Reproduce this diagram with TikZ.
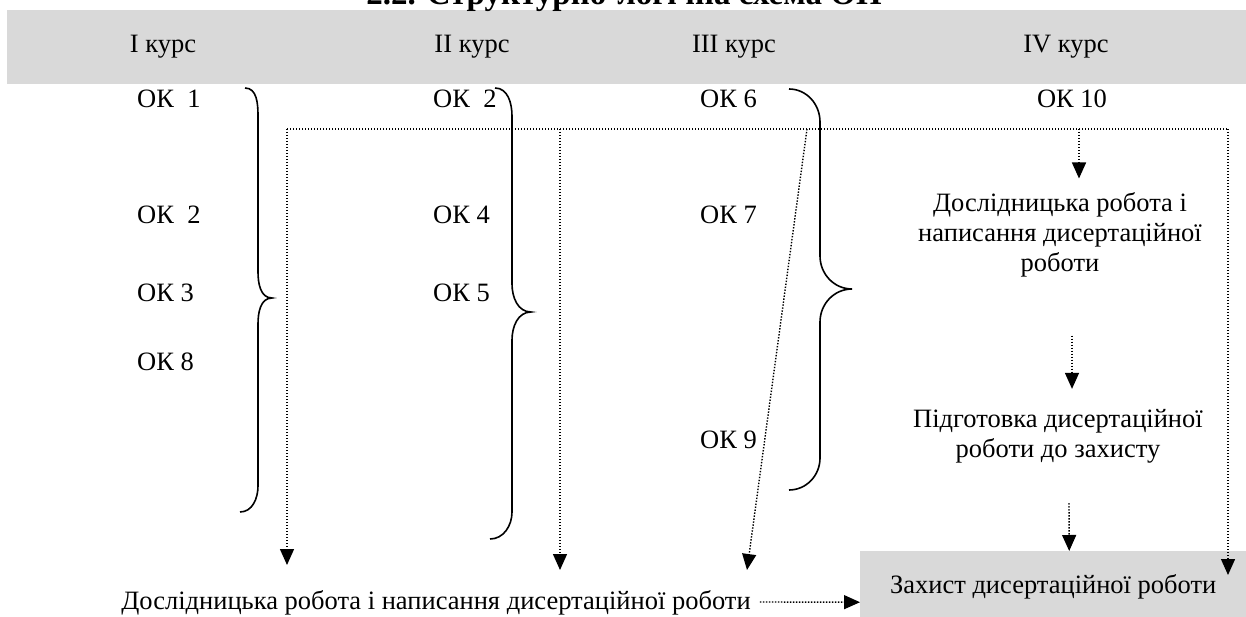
\documentclass[tikz,border=0pt]{standalone}
\usepackage{fontspec}
\setmainfont{Liberation Serif}
\usepackage{xcolor}
\usetikzlibrary{arrows.meta, positioning, calc}

\definecolor{headgray}{RGB}{217,217,217}

\begin{document}
\begin{tikzpicture}[x=1pt, y=1pt,
        every node/.style = {font=\fontsize{26.5}{30}\selectfont, inner sep=0pt},
        dotline/.style = {line width=1.4pt, dash pattern=on 1.4pt off 1.6pt},
        dotarrow/.style = {dotline, -{Triangle[width=14pt, length=16pt]}},
        bracel/.style = {line width=1.6pt}]
        \useasboundingbox (0, 0) rectangle (1246, -617);

        % header
        \fill[headgray] (7, -10) rectangle (1246, -84);
        \node[anchor=base, font=\fontsize{33}{36}\selectfont\bfseries] (Ntitle) at (624, -5) {2.2. Структурно-логічна схема ОП};
        \node[anchor=center] (Nk1) at (163, -47) {I курс};
        \node[anchor=center] (Nk2) at (472, -47) {II курс};
        \node[anchor=center] (Nk3) at (734, -47) {III курс};
        \node[anchor=center] (Nk4) at (1066, -47) {IV курс};

        % courses
        \node[anchor=west] (Na1) at (137, -99) {ОК\ \ 1};
        \node[anchor=west] (Na2) at (137, -215) {ОК\ \ 2};
        \node[anchor=west] (Na3) at (137, -293) {ОК 3};
        \node[anchor=west] (Na8) at (137, -362) {ОК 8};

        \node[anchor=west] (Nb2) at (433, -99) {ОК\ \ 2};
        \node[anchor=west] (Nb4) at (433, -215) {ОК 4};
        \node[anchor=west] (Nb5) at (433, -293) {ОК 5};

        \node[anchor=west] (Nc6) at (700, -99) {ОК 6};
        \node[anchor=west] (Nc7) at (700, -215) {ОК 7};
        \node[anchor=west] (Nc9) at (700, -440) {ОК 9};

        \node[anchor=center] (Nd10) at (1072, -99) {ОК 10};

        % research
        \node[anchor=center, align=center] (Nres) at (1060, -235) {Дослідницька робота і\\написання дисертаційної\\роботи};
        \node[anchor=center, align=center] (Nprep) at (1058, -436) {Підготовка дисертаційної\\роботи до захисту};
        \node[anchor=north west, fill=headgray, minimum width=386, minimum height=72] (Ndef) at (860, -551) {Захист дисертаційної роботи};
        \node[anchor=center] (Nbot) at (436, -603) {Дослідницька робота і написання дисертаційної роботи};

        % braces
        \draw[bracel] (245, -88) to[out=0, in=90] (258, -116) -- (258, -272) to[out=-90, in=180] (272, -298)
                to[out=180, in=90] (258, -324) -- (258, -486) to[out=-90, in=0] (240, -512);
        \draw[bracel] (495, -88) to[out=0, in=90] (512, -116) -- (512, -284) to[out=-90, in=180] (531, -312)
                to[out=180, in=90] (512, -340) -- (512, -512) to[out=-90, in=0] (490, -539);
        \draw[bracel] (789, -89) to[out=0, in=90] (820, -122) -- (820, -256) to[out=-90, in=180] (852, -289)
                to[out=180, in=90] (820, -322) -- (820, -458) to[out=-90, in=0] (789, -490);

        % dotted links
        \coordinate (Ja) at (287, -129);
        \coordinate (Jb) at (560, -129);
        \coordinate (Jc) at (807, -129);
        \coordinate (Jd) at (1079, -129);
        \coordinate (Je) at (1228, -129);
        \coordinate (Ta) at (287, -565);
        \coordinate (Tb) at (560, -570);
        \coordinate (Tc) at (747, -570);
        \coordinate (Te) at (1228, -575);

        \draw[dotline] (Ja) -- (Je);
        \draw[dotarrow] (Ja) -- (Ta);
        \draw[dotarrow] (Jb) -- (Tb);
        \draw[dotarrow] (Jc) -- (Tc);
        \draw[dotarrow] (Je) -- (Te);
        \draw[dotarrow] (Jd) -- ([xshift=19pt, yshift=14pt]Nres.north);
        \draw[dotarrow] ([xshift=12pt, yshift=-58pt]Nres.south) -- ([xshift=14pt, yshift=20pt]Nprep.north);
        \draw[dotarrow] ([xshift=11pt, yshift=-40pt]Nprep.south) -- ([xshift=16pt]Ndef.north);
        \draw[dotarrow] ([xshift=9pt, yshift=1pt]Nbot.east) -- ([yshift=-15pt]Ndef.west);
    \end{tikzpicture}
\end{document}
